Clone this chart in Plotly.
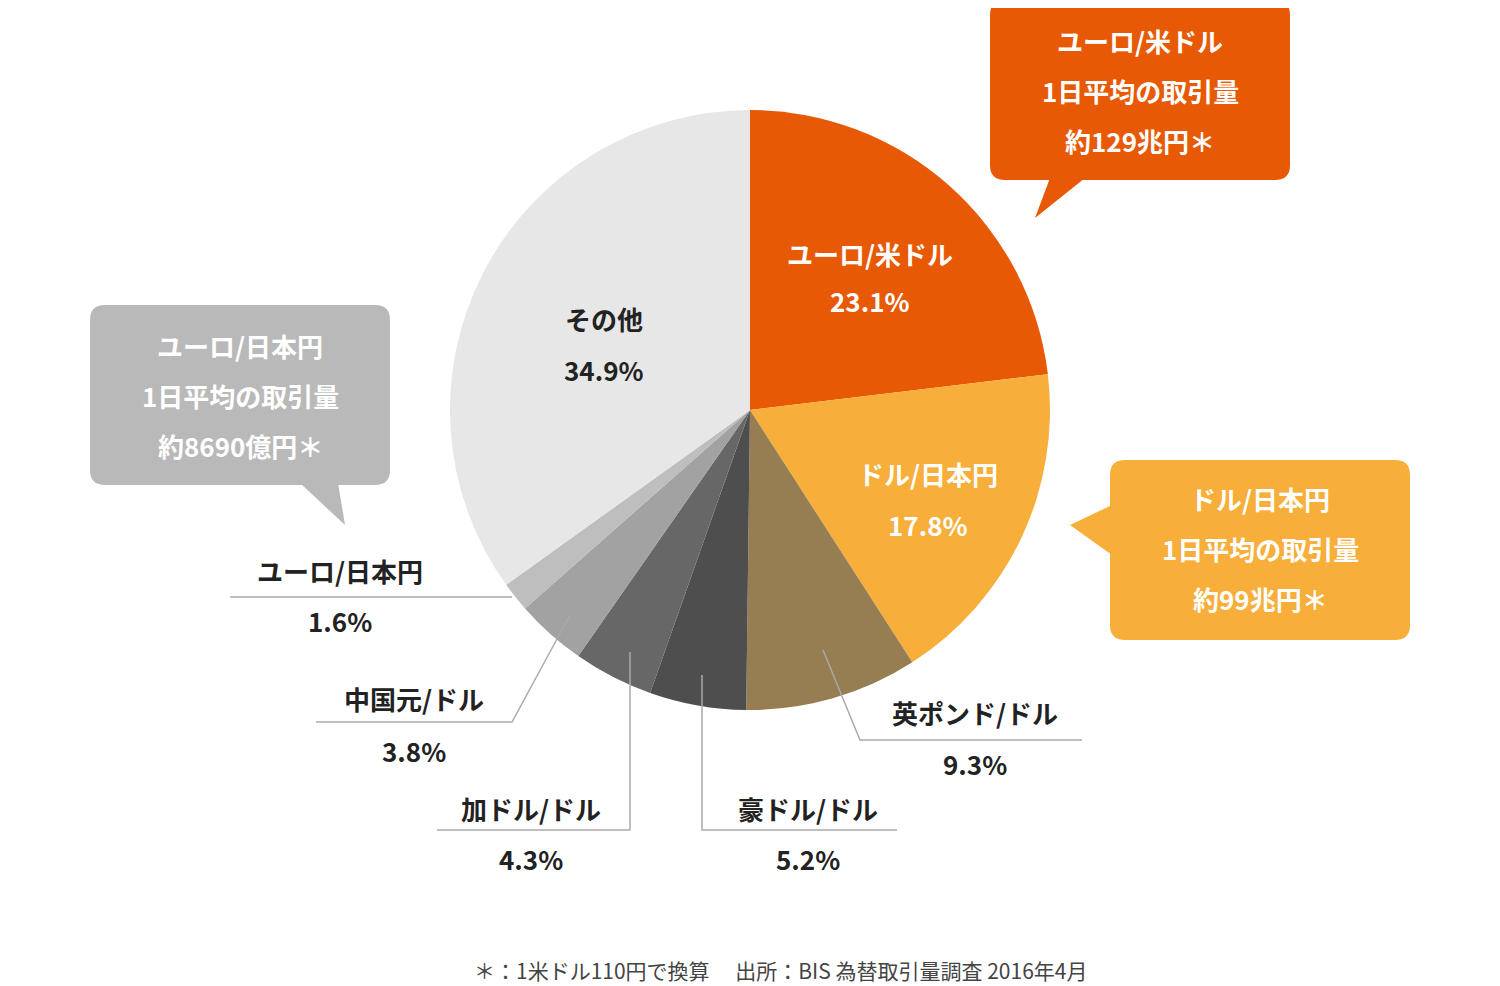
import plotly.graph_objects as go

# data
pairs = ["ユーロ/米ドル", "ドル/日本円", "英ポンド/ドル", "豪ドル/ドル",
         "加ドル/ドル", "中国元/ドル", "ユーロ/日本円", "その他"]
shares = [23.1, 17.8, 9.3, 5.2, 4.3, 3.8, 1.6, 34.9]
colors = ["#E85906", "#F7AE3A", "#967E52", "#4E4E4E",
          "#676767", "#A2A2A2", "#BEBEBE", "#E6E7E6"]
callout_pairs = ["ユーロ/米ドル", "ドル/日本円", "ユーロ/日本円"]
callout_amounts = ["約129兆円＊", "約99兆円＊", "約8690億円＊"]
footer = "＊：1米ドル110円で換算　 出所：BIS 為替取引量調査 2016年4月"

W, H = 1500, 986
OFF = 8  # page body margin
FONT = "Noto Sans CJK JP"

cx, cy, r = 750 - OFF, 410 - OFF, 300
fig = go.Figure(go.Pie(
    labels=pairs, values=shares, sort=False, direction="clockwise", rotation=0,
    marker=dict(colors=colors, line=dict(width=0)), textinfo="none",
    hoverinfo="label+percent", showlegend=False,
    domain=dict(x=[(cx - r) / W, (cx + r) / W], y=[1 - (cy + r) / H, 1 - (cy - r) / H]),
))
# hidden pixel axes for shapes / annotations
fig.add_trace(go.Scatter(x=[OFF, W], y=[OFF, H], mode="markers", marker=dict(opacity=0),
                         hoverinfo="skip", showlegend=False))

ann = []
def txt(x, y, s, color="#222", size=26, bold=True):
    ann.append(dict(x=x, y=y, xref="x", yref="y", text=f"<b>{s}</b>" if bold else s,
                    showarrow=False, font=dict(family=FONT, size=size, color=color)))

# slice labels: (x, y name, y pct, color)
label_pos = [(870, 253, 300, "white"), (928, 473, 524, "white"), (975, 712, 763, "#222"),
             (808, 808, 858, "#222"), (531, 808, 858, "#222"), (414, 698, 750, "#222"),
             (340, 570, 620, "#222"), (604, 318, 369, "#222")]
for name, v, (x, y1, y2, c) in zip(pairs, shares, label_pos):
    txt(x, y1, name, c)
    txt(x, y2, f"{v}%", c)

shapes = []
def line(pts):
    d = "M " + " L ".join(f"{x},{y}" for x, y in pts)
    shapes.append(dict(type="path", xref="x", yref="y", path=d,
                       line=dict(color="#AAAAAA", width=1.5)))

line([(230, 597), (512, 597)])
line([(316, 722), (512, 722), (570, 615)])
line([(437, 830), (630, 830), (630, 652)])
line([(702, 675), (702, 830), (897, 830)])
line([(823, 650), (860, 740), (1082, 740)])

def bubble(x0, y0, x1, y1, tail, color, r=15):
    d = (f"M {x0+r},{y0} L {x1-r},{y0} Q {x1},{y0} {x1},{y0+r} L {x1},{y1-r} "
         f"Q {x1},{y1} {x1-r},{y1} L {x0+r},{y1} Q {x0},{y1} {x0},{y1-r} "
         f"L {x0},{y0+r} Q {x0},{y0} {x0+r},{y0} Z")
    shapes.append(dict(type="path", xref="x", yref="y", path=d, fillcolor=color,
                       line=dict(width=0)))
    t = "M " + " L ".join(f"{x},{y}" for x, y in tail) + " Z"
    shapes.append(dict(type="path", xref="x", yref="y", path=t, fillcolor=color,
                       line=dict(width=0)))

boxes = [((990, 0, 1290, 180), [(1050, 178), (1035, 218), (1085, 178)], colors[0], 1140, 40),
         ((1110, 460, 1410, 640), [(1112, 505), (1070, 525), (1112, 555)], colors[1], 1260, 498),
         ((90, 305, 390, 485), [(300, 483), (345, 525), (338, 483)], "#B9B9B9", 240, 345)]
for name, amt, (box, tail, c, bx, by) in zip(callout_pairs, callout_amounts, boxes):
    bubble(*box, tail, c)
    for i, s in enumerate([name, "1日平均の取引量", amt]):
        txt(bx, by + 50 * i, s, "white")

txt(780, 970, footer, "#444", 21, bold=False)

fig.update_layout(
    width=W, height=H, margin=dict(l=0, r=0, t=0, b=0),
    paper_bgcolor="white", plot_bgcolor="white",
    xaxis=dict(range=[OFF, W + OFF], visible=False, fixedrange=True),
    yaxis=dict(range=[H + OFF, OFF], visible=False, fixedrange=True),
    shapes=shapes, annotations=ann,
)
fig.write_html("out.html")
